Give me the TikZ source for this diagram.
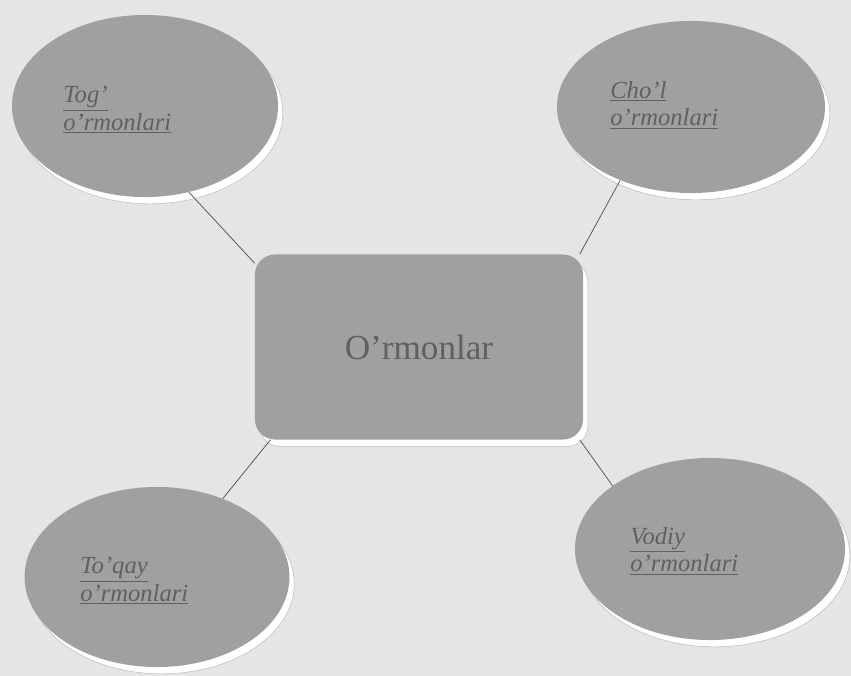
\documentclass[tikz,border=0pt]{standalone}
\usepackage{fontspec}
\setmainfont{Liberation Serif}
\usetikzlibrary{shapes.geometric, shadows}
\definecolor{pagegray}{RGB}{229,229,227}
\definecolor{shapegray}{RGB}{160,160,160}
\definecolor{inkgray}{RGB}{96,96,96}

\begin{document}
\begin{tikzpicture}[x=0.025cm, y=-0.025cm,
    rim/.style={general shadow={shadow xshift=0.12cm, shadow yshift=-0.17cm,
        fill=white, draw=black!25, line width=0.4pt}},
    zone/.style={ellipse, fill=shapegray, rim, inner sep=0pt},
    hub/.style={rectangle, fill=shapegray, rim, rounded corners=0.5cm,
        minimum width=8.2cm, minimum height=4.625cm, text=inkgray,
        font=\fontsize{25}{30}\selectfont},
    tag/.style={anchor=west, inner sep=0pt, align=left, text=inkgray,
        font=\fontsize{17.5}{19.5}\selectfont\itshape},
    link/.style={draw=black!70, line width=0.5pt}
]
\useasboundingbox (0,0) rectangle (851,676);
\fill[pagegray] (0,0) rectangle (851,676);
% centre box
\node[hub] (box) at (419,347) {O’rmonlar};
% four forest types
\node[zone, minimum width=6.65cm, minimum height=4.55cm] (tog) at (145,106) {};
\node[zone, minimum width=6.7cm, minimum height=4.3cm] (chol) at (691,107) {};
\node[zone, minimum width=6.62cm, minimum height=4.5cm] (toqay) at (157,577) {};
\node[zone, minimum width=6.75cm, minimum height=4.55cm] (vodiy) at (710,549) {};
% labels
\node[tag] (togtxt) at (63,110) {\underline{Tog’}\\\underline{o’rmonlari}};
\node[tag] (choltxt) at (610,105) {\underline{Cho’l}\\\underline{o’rmonlari}};
\node[tag] (toqaytxt) at (80,581) {\underline{To’qay}\\\underline{o’rmonlari}};
\node[tag] (vodiytxt) at (630,551) {\underline{Vodiy}\\\underline{o’rmonlari}};
% links
\draw[link] (tog.-63) -- (box.153);
\draw[link] (chol.-134) -- (box.30);
\draw[link] (toqay.50) -- (box.-148);
\draw[link] (vodiy.147) -- (box.-30);
\end{tikzpicture}
\end{document}
